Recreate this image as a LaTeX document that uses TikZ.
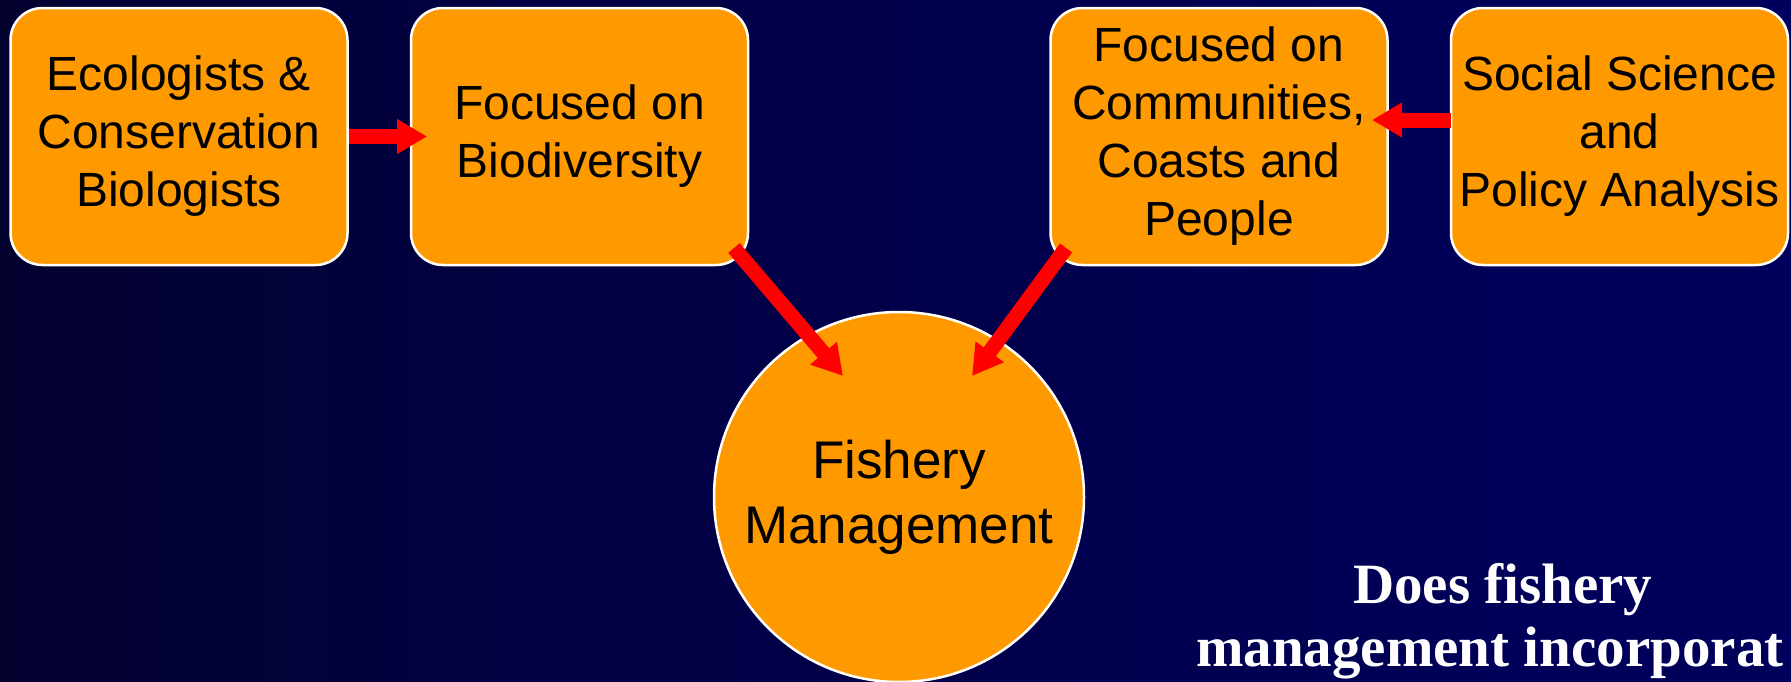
\documentclass[tikz,border=0pt]{standalone}
\usepackage{fontspec}
\setmainfont{Liberation Sans}
\newfontfamily\questionfont{Liberation Serif}
\usetikzlibrary{arrows.meta}
\definecolor{boxorange}{RGB}{255,153,0}
\definecolor{bgzero}{RGB}{4,4,14}
\definecolor{bgone}{RGB}{2,0,64}
\definecolor{bgtwo}{RGB}{0,0,88}
\definecolor{bgthree}{RGB}{0,0,104}
\definecolor{arrowred}{RGB}{255,0,0}
\pgfdeclarehorizontalshading{slidebg}{100bp}{color(0bp)=(bgzero); color(39bp)=(bgone); color(67bp)=(bgtwo); color(100bp)=(bgthree)}
\tikzset{
  boxnode/.style={draw=white, line width=2.5pt, fill=boxorange, rounded corners=32pt,
    minimum width=337pt, minimum height=257pt, align=center, text=black, inner sep=0pt,
    font=\fontsize{48}{58}\selectfont},
  bigarrow/.style={draw=arrowred, line width=15pt, -{Triangle[width=33pt,length=30pt]}},
  question/.style={anchor=base west, text=white, inner sep=0pt,
    font=\questionfont\bfseries\fontsize{57}{63}\selectfont}
}
\begin{document}
\begin{tikzpicture}[x=1pt,y=-1pt]
\shade[shading=slidebg] (0,0) rectangle (1791,681);
\useasboundingbox (0,0) rectangle (1791,681);
\begin{scope}
\clip (0,0) rectangle (1791,681);
\node[boxnode] (b1) at (179,136.5) {Ecologists \&\\Conservation\\Biologists};
\node[boxnode] (b2) at (579.5,136.5) {Focused on\\Biodiversity};
\node[boxnode] (b3) at (1219,136.5) {Focused on\\Communities,\\Coasts and\\People};
\node[boxnode] (b4) at (1619.5,136.5) {Social Science\\and\\Policy Analysis};
\node[circle, draw=white, line width=2.5pt, fill=boxorange, minimum size=370pt, inner sep=0pt,
  align=center, text=black, font=\fontsize{53}{65}\selectfont] (fm) at (899,497) {Fishery\\Management};
\coordinate (t1) at (427,136.5);
\coordinate (t2) at (1372,120);
\coordinate (s3) at (734,248);
\coordinate (t3) at (843,376);
\coordinate (s4) at (1066,248);
\coordinate (t4) at (972,376);
\coordinate (s2) at (1451,120);
\draw[bigarrow] (b1.east) -- (t1);
\draw[bigarrow] (s2) -- (t2);
\draw[bigarrow] (s3) -- (t3);
\draw[bigarrow] (s4) -- (t4);
\node[question] (q1) at (1353,603) {Does fishery};
\node[question] (q2) at (1196,666) {management incorporat};
\end{scope}
\end{tikzpicture}
\end{document}
